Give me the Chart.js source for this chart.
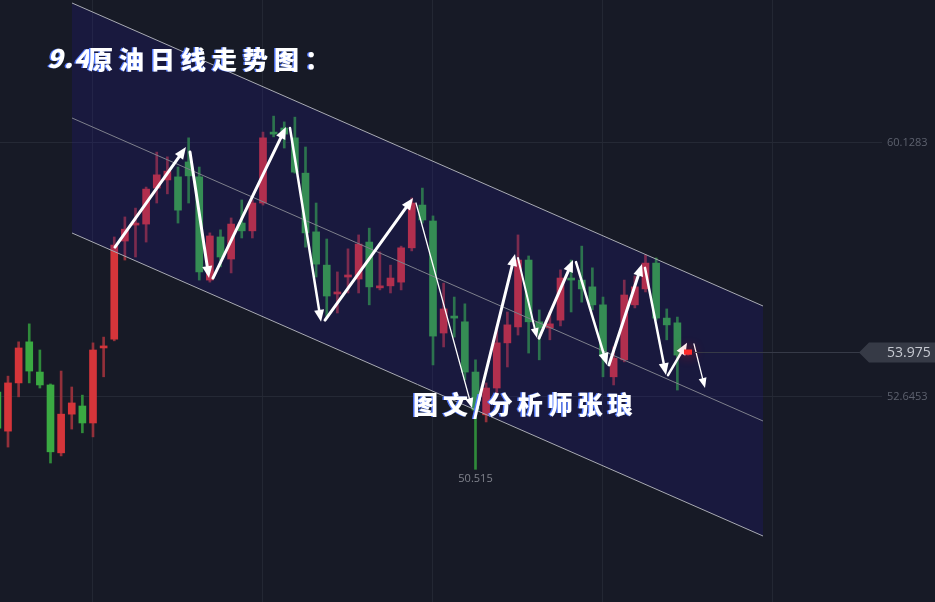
<!DOCTYPE html>
<html>
<head>
<meta charset="utf-8">
<script src="https://cdn.jsdelivr.net/npm/chart.js@4.4.0/dist/chart.umd.min.js"></script>
<style>
  html, body { margin: 0; padding: 0; background: #171a26; overflow: hidden; }
</style>
</head>
<body>
<canvas id="chart" width="935" height="602"></canvas>
<script>
// daily candles, first one is cut by the left edge
var firstCandle = -1;
var candleOpen  = [52.79, 51.64, 53.06, 54.27, 53.38, 53.00, 51.00, 52.14, 52.38, 51.88, 54.09, 54.35, 57.24, 57.71, 57.74, 58.80, 59.04, 59.13, 59.57, 59.13, 56.09, 57.36, 56.71, 57.77, 57.54, 58.36, 60.45, 60.57, 60.28, 59.24, 57.51, 56.53, 55.68, 56.18, 56.12, 57.21, 55.86, 55.92, 56.03, 57.04, 58.30, 57.83, 54.53, 55.03, 54.86, 53.38, 52.12, 52.91, 54.24, 54.71, 56.68, 54.86, 54.68, 54.91, 56.15, 56.09, 55.89, 55.36, 53.24, 53.74, 55.36, 55.83, 56.59, 54.97, 54.83, 53.90];
var candleHigh  = [52.91, 53.26, 54.27, 54.80, 54.03, 53.03, 53.41, 52.94, 52.70, 54.24, 54.41, 57.36, 57.95, 58.21, 58.83, 59.86, 59.72, 59.42, 60.28, 59.42, 57.48, 57.57, 57.92, 58.45, 58.45, 60.45, 60.92, 60.75, 60.89, 60.01, 58.36, 57.30, 56.33, 57.01, 57.42, 57.62, 56.92, 56.53, 57.09, 58.51, 58.80, 57.98, 56.00, 55.59, 55.39, 53.74, 53.06, 54.71, 55.15, 57.42, 56.80, 55.21, 55.15, 56.39, 56.68, 57.09, 56.45, 55.59, 54.12, 56.09, 56.21, 56.83, 56.74, 55.24, 55.00, 54.00];
var candleLow   = [51.61, 51.17, 52.65, 53.06, 52.91, 50.70, 50.91, 51.70, 51.59, 51.47, 53.24, 54.30, 56.68, 56.77, 57.21, 58.36, 58.63, 57.77, 58.36, 56.09, 56.03, 56.48, 56.30, 57.33, 57.33, 58.30, 60.31, 59.98, 59.24, 57.06, 56.18, 55.00, 55.12, 55.71, 55.71, 55.36, 55.80, 55.71, 55.80, 56.95, 57.77, 53.59, 54.12, 54.41, 53.15, 50.515, 51.91, 52.70, 53.53, 54.47, 53.94, 53.74, 54.33, 54.74, 55.15, 55.44, 55.21, 53.24, 53.00, 53.68, 55.27, 55.74, 54.91, 54.33, 52.85, 53.88];
var candleClose = [51.73, 53.06, 54.09, 53.41, 53.00, 51.03, 52.14, 52.47, 51.88, 54.03, 54.15, 57.12, 57.59, 57.77, 58.77, 59.19, 59.30, 58.15, 59.16, 56.33, 57.39, 56.77, 57.74, 57.54, 58.36, 60.28, 60.39, 60.39, 59.27, 57.48, 56.56, 55.62, 55.74, 56.24, 57.15, 55.89, 55.92, 56.15, 57.04, 58.36, 57.86, 54.44, 55.24, 54.97, 53.38, 52.26, 52.91, 54.24, 54.77, 56.68, 54.86, 54.68, 54.80, 56.15, 56.09, 55.83, 55.36, 53.85, 53.79, 55.65, 55.89, 56.59, 54.97, 54.77, 53.88, 53.975];

var yTicks = [52.6453, 60.1283];
var xGridTicks = [8, 24, 40, 56, 72];

// descending channel, [candle index, price]
var channelUpper  = [[6.024, 64.253], [71.06, 55.326]];
var channelMiddle = [[6.024, 60.865], [71.06, 51.938]];
var channelLower  = [[6.024, 57.477], [71.06, 48.550]];

// hand drawn arrows: [from index, from price, to index, to price, width]
var arrows = [
  [10.07, 57.06, 16.75, 60.01, 3],
  [17.13, 59.86, 18.92, 56.15, 3],
  [19.29, 56.15, 26.16, 60.60, 3],
  [26.54, 60.57, 29.46, 54.86, 2.5],
  [29.84, 54.91, 38.12, 58.51, 3],
  [38.40, 58.36, 43.67, 52.32, 1.3],
  [44.14, 52.32, 47.72, 56.86, 3],
  [48.00, 56.74, 49.79, 54.38, 2],
  [49.98, 54.38, 53.18, 56.68, 3],
  [53.46, 56.62, 56.38, 53.59, 2.5],
  [56.56, 53.59, 59.67, 56.56, 3],
  [59.95, 56.45, 61.93, 53.29, 2.5],
  [62.12, 53.29, 63.91, 54.24, 2.5],
  [64.56, 54.21, 65.60, 52.91, 1.3]
];

var titleDigits = '9.4';
var titleText = '原油日线走势图：';
var authorText = '图文/分析师张琅';

var UP = '#d5353a', DOWN = '#3aaa42';
var UP_WICK = '#93303a', DOWN_WICK = '#2f8a3a';

var wickData = [], bodyData = [], bodyColors = [], wickColors = [];
for (var i = 0; i < candleOpen.length; i++) {
  var x = firstCandle + i;
  var up = candleClose[i] >= candleOpen[i];
  wickData.push({ x: x, y: [candleLow[i], candleHigh[i]] });
  bodyData.push({ x: x, y: [candleOpen[i], candleClose[i]] });
  bodyColors.push(up ? UP : DOWN);
  wickColors.push(up ? UP_WICK : DOWN_WICK);
}

function pts(a) { return a.map(function (p) { return { x: p[0], y: p[1] }; }); }

var bgPlugin = {
  id: 'bg',
  beforeDraw: function (chart) {
    var ctx = chart.ctx;
    ctx.save();
    ctx.fillStyle = '#171a26';
    ctx.fillRect(0, 0, chart.width, chart.height);
    ctx.restore();
  }
};

function drawArrow(ctx, x0, y0, x1, y1, w) {
  var ang = Math.atan2(y1 - y0, x1 - x0);
  var len = w > 2 ? 12 : 10, half = w > 2 ? 5 : 4;
  var bx = x1 - Math.cos(ang) * len, by = y1 - Math.sin(ang) * len;
  ctx.lineWidth = w;
  ctx.beginPath();
  ctx.moveTo(x0, y0);
  ctx.lineTo(bx, by);
  ctx.stroke();
  ctx.beginPath();
  ctx.moveTo(x1, y1);
  ctx.lineTo(bx + Math.sin(ang) * half, by - Math.cos(ang) * half);
  ctx.lineTo(bx - Math.sin(ang) * half, by + Math.cos(ang) * half);
  ctx.closePath();
  ctx.fill();
}

var overlayPlugin = {
  id: 'overlay',
  afterDatasetsDraw: function (chart) {
    var ctx = chart.ctx, xs = chart.scales.x, ys = chart.scales.y;
    ctx.save();
    // arrows
    ctx.strokeStyle = '#ffffff';
    ctx.fillStyle = '#ffffff';
    ctx.lineCap = 'round';
    arrows.forEach(function (a) {
      drawArrow(ctx, xs.getPixelForValue(a[0]), ys.getPixelForValue(a[1]),
        xs.getPixelForValue(a[2]), ys.getPixelForValue(a[3]), a[4]);
    });

    // last price
    var n = candleClose.length - 1;
    var last = candleClose[n];
    var lx = xs.getPixelForValue(firstCandle + n), ly = Math.round(ys.getPixelForValue(last)) + 0.5;
    ctx.strokeStyle = '#363a47';
    ctx.lineWidth = 1;
    ctx.beginPath();
    ctx.moveTo(lx + 6, ly);
    ctx.lineTo(860, ly);
    ctx.stroke();

    ctx.shadowColor = 'rgba(255,20,20,0.9)';
    ctx.shadowBlur = 12;
    ctx.fillStyle = '#ff2a2a';
    ctx.fillRect(lx - 4, ly - 3, 8, 5);
    ctx.shadowBlur = 0;

    ctx.fillStyle = '#363a46';
    ctx.beginPath();
    ctx.moveTo(859, ly);
    ctx.lineTo(869, ly - 10);
    ctx.lineTo(935, ly - 10);
    ctx.lineTo(935, ly + 10);
    ctx.lineTo(869, ly + 10);
    ctx.closePath();
    ctx.fill();
    ctx.fillStyle = '#c6c9d1';
    ctx.font = '14px "Open Sans", sans-serif';
    ctx.textBaseline = 'middle';
    ctx.textAlign = 'left';
    ctx.fillText(last.toFixed(3), 887, ly + 1);

    // lowest low
    var lo = 0;
    for (var i = 1; i < candleLow.length; i++) if (candleLow[i] < candleLow[lo]) lo = i;
    ctx.fillStyle = '#80838d';
    ctx.font = '11px "Open Sans", sans-serif';
    ctx.textAlign = 'center';
    ctx.fillText(String(candleLow[lo]), xs.getPixelForValue(firstCandle + lo), ys.getPixelForValue(candleLow[lo]) + 10);
    ctx.restore();
  },
  afterDraw: function (chart) {
    var ctx = chart.ctx;
    ctx.save();
    ctx.textBaseline = 'alphabetic';
    ctx.textAlign = 'left';
    function txt(s, x, y, font, spacing) {
      ctx.font = font;
      ctx.letterSpacing = spacing;
      ctx.fillStyle = '#4f78ff';
      ctx.fillText(s, x - 1.5, y);
      ctx.fillStyle = '#ffffff';
      ctx.fillText(s, x, y);
    }
    txt(titleDigits, 47, 68, 'italic 900 26px "Noto Sans CJK SC"', '1px');
    txt(titleText, 88, 69, '900 25px "Noto Sans CJK SC"', '6px');
    txt(authorText, 413, 414, '900 25px "Noto Sans CJK SC"', '5px');
    ctx.restore();
  }
};

new Chart(document.getElementById('chart'), {
  type: 'bar',
  data: {
    datasets: [
      { type: 'line', data: pts(channelUpper), borderColor: '#a9abb3', borderWidth: 1, pointRadius: 0, fill: false, order: 1 },
      { type: 'line', data: pts(channelMiddle), borderColor: '#7e808c', borderWidth: 1, pointRadius: 0, fill: false, order: 1 },
      { type: 'line', data: pts(channelLower), borderColor: '#a9abb3', borderWidth: 1, pointRadius: 0,
        fill: '-2', backgroundColor: 'rgba(37,26,158,0.2)', order: 1 },
      { data: wickData, backgroundColor: wickColors, barThickness: 2, grouped: false, order: 3 },
      { data: bodyData, backgroundColor: bodyColors, barThickness: 7, grouped: false, minBarLength: 1, order: 2 }
    ]
  },
  options: {
    responsive: false,
    animation: false,
    layout: { padding: 0 },
    plugins: {
      legend: { display: false },
      tooltip: { enabled: false }
    },
    scales: {
      x: {
        type: 'linear',
        offset: false,
        min: -0.7529,
        max: 82.259,
        grid: { color: '#232733', drawTicks: false, offset: false },
        border: { display: false },
        ticks: { display: false },
        afterBuildTicks: function (scale) {
          scale.ticks = xGridTicks.map(function (v) { return { value: v }; });
        },
        afterFit: function (scale) {
          scale.height = 0;
          scale.paddingLeft = 0;
          scale.paddingRight = 0;
        }
      },
      y: {
        position: 'right',
        min: 46.6057,
        max: 64.3412,
        grid: { color: '#252935', drawTicks: false },
        border: { display: false },
        ticks: {
          color: '#5d616e',
          padding: 5,
          font: { size: 11, family: '"Open Sans", sans-serif' },
          callback: function (v) { return Number(v).toFixed(4); }
        },
        afterBuildTicks: function (scale) {
          scale.ticks = yTicks.map(function (v) { return { value: v }; });
        },
        afterFit: function (scale) {
          scale.width = 53;
          scale.paddingTop = 0;
          scale.paddingBottom = 0;
        }
      }
    }
  },
  plugins: [bgPlugin, overlayPlugin]
});
</script>
</body>
</html>
